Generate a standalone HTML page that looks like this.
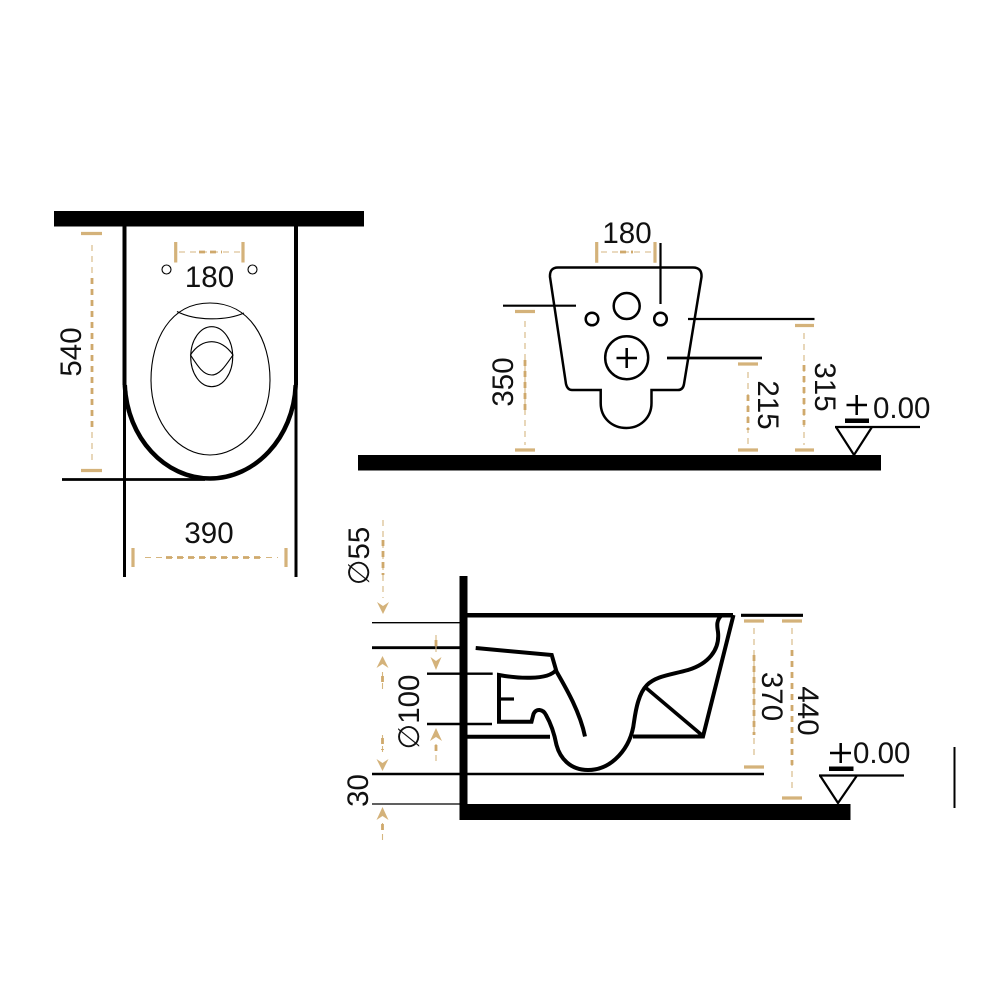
<!DOCTYPE html>
<html><head><meta charset="utf-8"><style>
html,body{margin:0;padding:0;background:#fff}
svg{display:block;filter:blur(.35px)}
text{font-family:"Liberation Sans",sans-serif;font-size:29.5px;fill:#111}
.k{fill:none;stroke:#000;stroke-linecap:butt;stroke-linejoin:miter}
.t{stroke:#d4b27a;stroke-width:3.2;fill:none}
.d{stroke:#d6b680;stroke-width:1.1;fill:none;stroke-dasharray:6 5}
.m{stroke:#cfa96c;stroke-width:2.8;fill:none;stroke-dasharray:6 5}
.a{fill:#d4b27a;stroke:none}
</style></head><body>
<svg width="1000" height="1000" viewBox="0 0 1000 1000" xmlns="http://www.w3.org/2000/svg">
<rect width="1000" height="1000" fill="#fff"/>

<!-- TOP VIEW -->
<rect x="54" y="211" width="310" height="15.5" fill="#000"/>
<path class="k" stroke-width="4" d="M124.500 226V385M296 226V385"/>
<path class="k" stroke-width="3" d="M124.500 385V577M296 385V577"/>
<path class="k" stroke-width="4.500" d="M124.800 385C127 438 165 478.500 210 478.500C255 478.500 293.500 438 295.700 385"/>
<path class="k" stroke-width="2.800" d="M62 479.500H205"/>
<path class="k" stroke-width="1.100" d="M210 303C250 303 270 340 270 380C270 425 240 455 210 455C180 455 151 425 151 380C151 340 170 303 210 303Z"/>
<path class="k" stroke-width="1.100" d="M177 311.500C195 321 226 321 244 313"/>
<ellipse class="k" stroke-width="1.100" cx="211.700" cy="356.700" rx="21" ry="30"/>
<path class="k" stroke-width="1.100" d="M190.500 355C196 346 204 341.700 211.700 341.700C219 341.700 227 346 233 355C226 365 220 375 211.700 375C203 375 197 365 190.500 355Z"/>
<circle class="k" stroke-width="1.100" cx="166.500" cy="269.500" r="4.500"/>
<circle class="k" stroke-width="1.100" cx="252.500" cy="269.500" r="4.500"/>
<path class="t" d="M81 233.500H102M81 470.500H102M175.700 242V262.500M243 242V262.500M133 548V567M286 548V567"/>
<path class="d" d="M92 245V460M179 252H240M145 557.500H278"/>
<path class="m" d="M92 278V430M199 252H222M166 557.500H260"/>
<text x="209.500" y="287" text-anchor="middle">180</text>
<text x="209" y="543" text-anchor="middle">390</text>
<text transform="translate(81 352) rotate(-90)" text-anchor="middle">540</text>

<!-- FRONT VIEW -->
<path class="k" stroke-width="2.500" d="M558 267.500H693Q702 267.500 701.500 277L684 384Q683 390 678 390H651.500V403C651.500 418 640 428 626.500 428C612 428 600.700 418 600.700 403V390H572Q567.500 390 566 384L550 277Q549.500 267.500 558 267.500Z"/>
<circle class="k" stroke-width="2.500" cx="626.700" cy="306" r="13"/>
<circle class="k" stroke-width="2.500" cx="592" cy="319" r="6.300"/>
<circle class="k" stroke-width="2.500" cx="660.500" cy="319" r="6.300"/>
<circle class="k" stroke-width="2.500" cx="626.700" cy="357.700" r="21.500"/>
<path class="k" stroke-width="2.500" d="M616.500 358H637M626.700 348V368"/>
<path class="k" stroke-width="2.200" d="M503 305.700H576M660.500 243V304M688 319H814.500"/>
<path class="k" stroke-width="2.800" d="M667 358H762"/>
<rect x="358" y="455" width="523" height="15.500" fill="#000"/>
<path class="t" d="M515 311.500H535M515 450H535M738 364H758M738 450H758M795 325.500H814M795 450H814M596.700 242V262.700M655 242V262.700"/>
<path class="d" d="M525 321V445M748 372V445M804 333V445M601 252H651"/>
<path class="m" d="M525 360V415M748 395V430M804 365V425M620 252H633"/>
<text x="627" y="243" text-anchor="middle">180</text>
<text transform="translate(513 382) rotate(-90)" text-anchor="middle">350</text>
<text transform="translate(758 405) rotate(90)" text-anchor="middle">215</text>
<text transform="translate(815 387) rotate(90)" text-anchor="middle">315</text>
<path class="k" stroke-width="2.200" d="M835 427H920M836 427L854 455L872 427"/>
<rect x="845" y="418.500" width="24" height="4.500" fill="#000"/>
<path class="k" stroke-width="2.500" d="M846.500 405H867M856.700 395V415"/>
<text x="873" y="418">0.00</text>

<!-- SIDE VIEW -->
<rect x="459.500" y="576" width="8" height="244" fill="#000"/>
<rect x="459.500" y="804" width="391" height="16" fill="#000"/>
<path class="k" stroke-width="4.500" d="M467 615.300H733"/>
<path class="k" stroke-width="3.200" d="M741 615.300H803"/>
<path class="k" stroke-width="4" d="M733.500 615L703 736.500H633M550 736.700H467"/>
<path class="k" stroke-width="3.600" d="M645 687L703 736"/>
<path class="k" stroke-width="4" d="M722 615C716 620 717 626 718 632C720 650 708 664 688 670C670 675 656 676 647 685C639 693 636 708 634 722C631 748 612 770 588 770C570 770 560 758 556.500 745C554 732 550 722 546 715C543 709 536 708 533.500 714L531.500 721.700H499V675C515 678 548 681 556 670"/>
<path class="k" stroke-width="3.200" d="M499 699H514"/>
<path class="k" stroke-width="4" d="M475.700 648L551.700 655L556.500 671.500C566 688 580 712 585 736.500"/>
<path class="k" stroke-width="1.300" d="M372 622.700H460M372 804H460"/>
<path class="k" stroke-width="2.800" d="M372 647.700H460"/>
<path class="k" stroke-width="2.400" d="M427 673.700H492.700M427 724H492M372 774H764"/>
<path class="k" stroke-width="2" d="M954.500 747V808"/>
<path class="t" d="M744 621H764M744 767H764M782 621H802M782 798H802"/>
<path class="d" d="M754 628V760M792 628V793M383 520V598M436 635V652M382.500 672V691M382.500 735V756M436 744V763M382.500 823V842"/>
<path class="m" d="M754 655V735M792 650V765M383 540V575M382.500 676V684M382.500 738V750M436 640V650M436 745V755M382.500 824V832"/>
<path class="a" d="M377 602L383 606L389 602L383 614ZM430.500 657L436 661L441.500 657L436 670ZM376.500 668L382.500 664L388.500 668L382.500 656ZM376.500 759L382.500 763L388.500 759L382.500 771ZM430 741L436 737L442 741L436 728ZM376.500 820L382.500 816L388.500 820L382.500 807Z"/>
<text transform="translate(369 556) rotate(-90)" text-anchor="middle">∅55</text>
<text transform="translate(419 712) rotate(-90)" text-anchor="middle">∅100</text>
<text transform="translate(368 790.500) rotate(-90)" text-anchor="middle">30</text>
<text transform="translate(762 696.500) rotate(90)" text-anchor="middle">370</text>
<text transform="translate(798 711) rotate(90)" text-anchor="middle">440</text>
<path class="k" stroke-width="2.200" d="M819 775.500H904M820 775.500L838 803L857 775.500"/>
<rect x="829" y="766.500" width="24.500" height="4.500" fill="#000"/>
<path class="k" stroke-width="2.500" d="M830 753H851M840.700 743V763"/>
<text x="853" y="763">0.00</text>
</svg>
</body></html>
